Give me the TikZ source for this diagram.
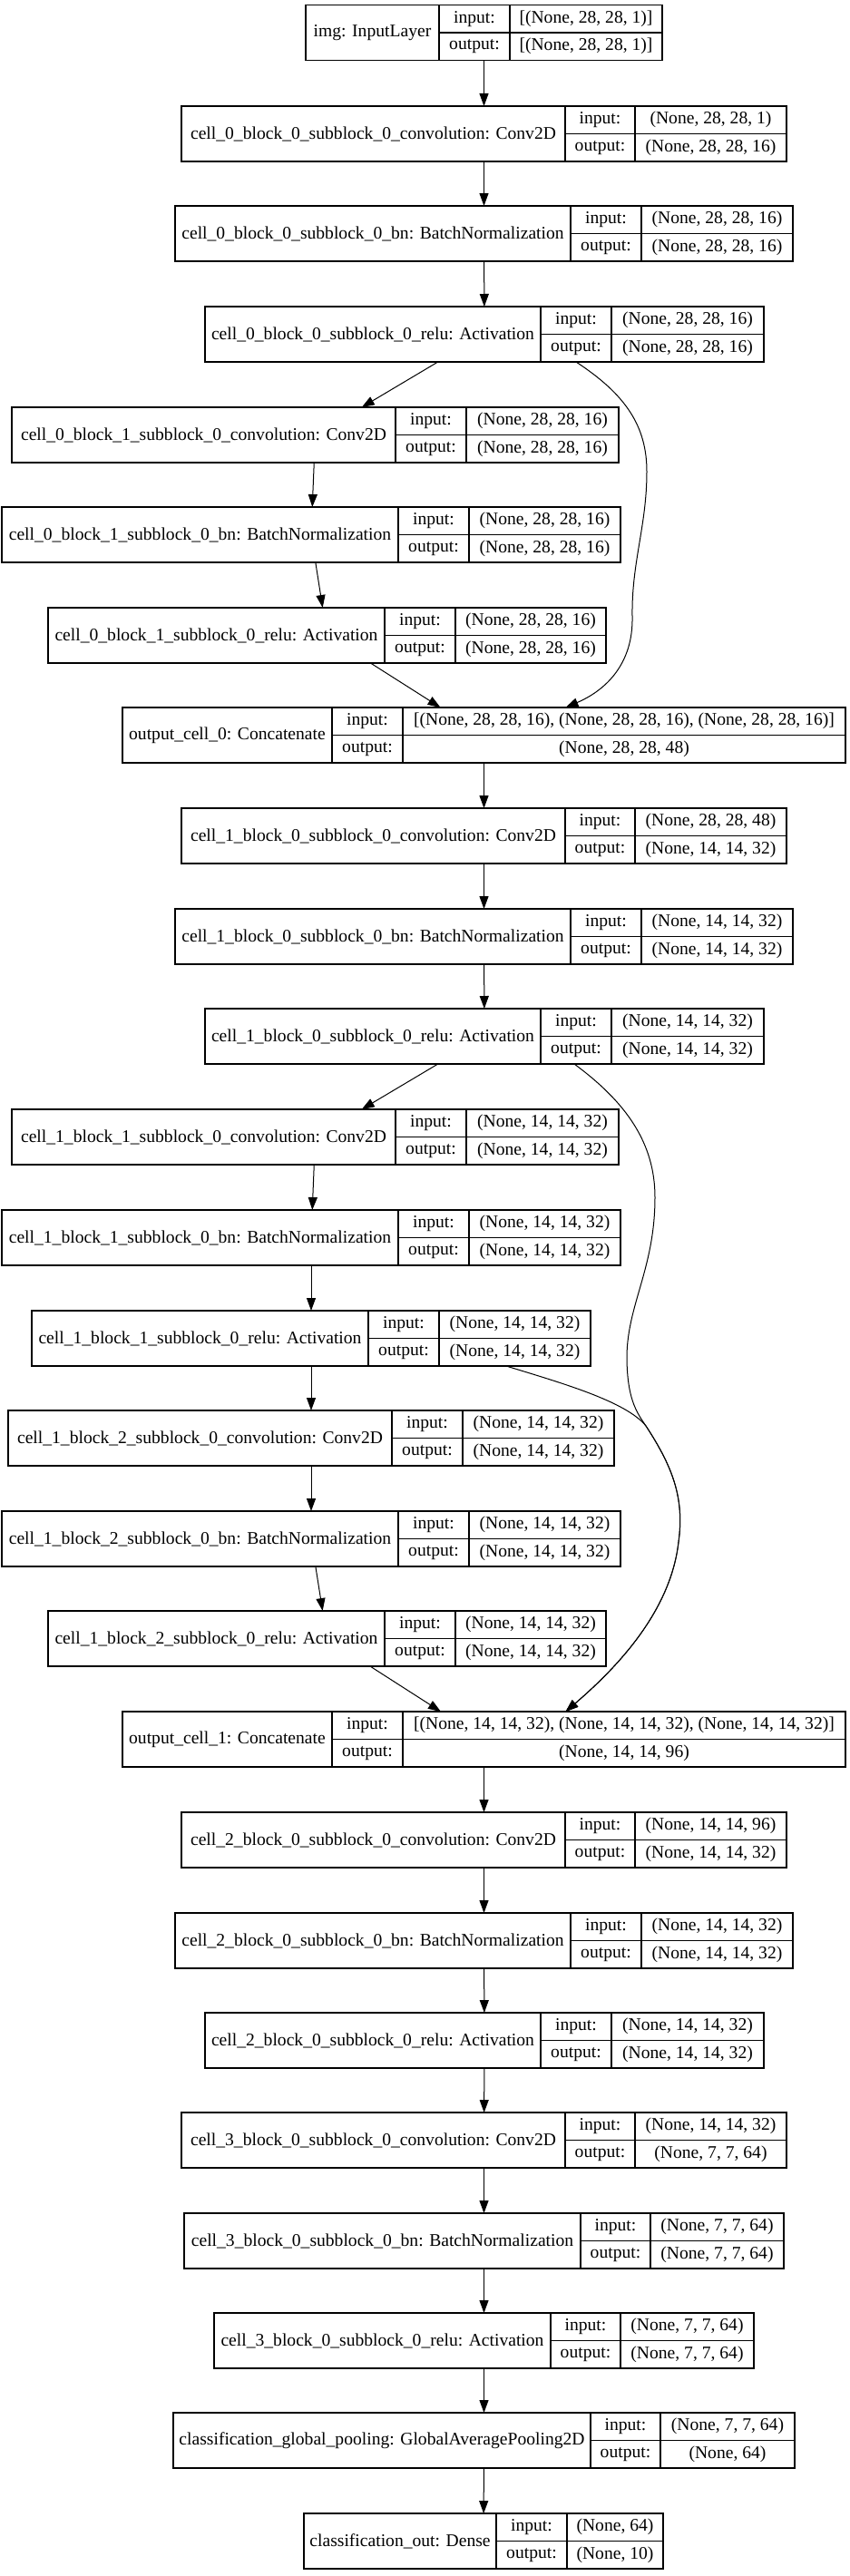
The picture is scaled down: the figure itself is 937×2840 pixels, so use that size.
\documentclass[tikz,border=0pt]{standalone}
\usepackage{fontspec}
\setmainfont{Liberation Serif}
\usetikzlibrary{positioning}
\usetikzlibrary{arrows.meta}
\usetikzlibrary{calc}

% one keras layer: name, top, left, split1, split2, right, label, input, output
\newcommand{\kerasnode}[9]{%
\node[layernode, minimum width={(#6-#3)*0.75pt}, anchor=north west] (#1) at (#3,#2) {};
\node[namenode, minimum width={(#4-#3)*0.75pt}, anchor=north west] (#1-name) at (#3,#2) {#7};
\node[portnode, minimum width={(#5-#4)*0.75pt}, anchor=north west] (#1-in) at (#4,#2) {input:};
\node[portnode, minimum width={(#5-#4)*0.75pt}, anchor=north west] (#1-out) at (#4,#2+30.5) {output:};
\node[portnode, minimum width={(#6-#5)*0.75pt}, anchor=north west] (#1-inv) at (#5,#2) {#8};
\node[portnode, minimum width={(#6-#5)*0.75pt}, anchor=north west] (#1-outv) at (#5,#2+30.5) {#9};
}

\begin{document}
\begin{tikzpicture}[
x=0.75pt, y=-0.75pt,
font=\fontsize{14.7}{17}\selectfont,
layernode/.style={rectangle, draw, line width=1pt, inner sep=0pt, outer sep=0pt, minimum height=45.75pt},
namenode/.style={rectangle, draw, line width=1pt, inner sep=0pt, outer sep=0pt, minimum height=45.75pt},
portnode/.style={rectangle, draw, line width=1pt, inner sep=0pt, outer sep=0pt, minimum height=22.875pt},
flow/.style={-{Triangle[length=10.5pt,width=7.5pt]}, line width=0.75pt}
]
\useasboundingbox (0,0) rectangle (937,2840);

%Nodes
\kerasnode{img}{5.5}{337}{484}{562}{730}{img: InputLayer}{[(None, 28, 28, 1)]}{[(None, 28, 28, 1)]}
\kerasnode{c0b0conv}{117}{200}{623}{700}{867}{cell\_0\_block\_0\_subblock\_0\_convolution: Conv2D}{(None, 28, 28, 1)}{(None, 28, 28, 16)}
\kerasnode{c0b0bn}{227}{193}{629}{707}{874}{cell\_0\_block\_0\_subblock\_0\_bn: BatchNormalization}{(None, 28, 28, 16)}{(None, 28, 28, 16)}
\kerasnode{c0b0relu}{338}{226}{596}{674}{842}{cell\_0\_block\_0\_subblock\_0\_relu: Activation}{(None, 28, 28, 16)}{(None, 28, 28, 16)}
\kerasnode{c0b1conv}{449}{13}{436}{514}{682}{cell\_0\_block\_1\_subblock\_0\_convolution: Conv2D}{(None, 28, 28, 16)}{(None, 28, 28, 16)}
\kerasnode{c0b1bn}{559}{2}{439}{517}{684}{cell\_0\_block\_1\_subblock\_0\_bn: BatchNormalization}{(None, 28, 28, 16)}{(None, 28, 28, 16)}
\kerasnode{c0b1relu}{670}{53}{424}{502}{668}{cell\_0\_block\_1\_subblock\_0\_relu: Activation}{(None, 28, 28, 16)}{(None, 28, 28, 16)}
\kerasnode{cat0}{780}{135}{366}{444}{932}{output\_cell\_0: Concatenate}{[(None, 28, 28, 16), (None, 28, 28, 16), (None, 28, 28, 16)]}{(None, 28, 28, 48)}
\kerasnode{c1b0conv}{891}{200}{623}{700}{867}{cell\_1\_block\_0\_subblock\_0\_convolution: Conv2D}{(None, 28, 28, 48)}{(None, 14, 14, 32)}
\kerasnode{c1b0bn}{1002}{193}{629}{707}{874}{cell\_1\_block\_0\_subblock\_0\_bn: BatchNormalization}{(None, 14, 14, 32)}{(None, 14, 14, 32)}
\kerasnode{c1b0relu}{1112}{226}{596}{674}{842}{cell\_1\_block\_0\_subblock\_0\_relu: Activation}{(None, 14, 14, 32)}{(None, 14, 14, 32)}
\kerasnode{c1b1conv}{1223}{13}{436}{514}{682}{cell\_1\_block\_1\_subblock\_0\_convolution: Conv2D}{(None, 14, 14, 32)}{(None, 14, 14, 32)}
\kerasnode{c1b1bn}{1334}{2}{439}{517}{684}{cell\_1\_block\_1\_subblock\_0\_bn: BatchNormalization}{(None, 14, 14, 32)}{(None, 14, 14, 32)}
\kerasnode{c1b1relu}{1445}{35}{406}{484}{651}{cell\_1\_block\_1\_subblock\_0\_relu: Activation}{(None, 14, 14, 32)}{(None, 14, 14, 32)}
\kerasnode{c1b2conv}{1555}{9}{432}{510}{677}{cell\_1\_block\_2\_subblock\_0\_convolution: Conv2D}{(None, 14, 14, 32)}{(None, 14, 14, 32)}
\kerasnode{c1b2bn}{1666}{2}{439}{517}{684}{cell\_1\_block\_2\_subblock\_0\_bn: BatchNormalization}{(None, 14, 14, 32)}{(None, 14, 14, 32)}
\kerasnode{c1b2relu}{1776}{53}{424}{502}{668}{cell\_1\_block\_2\_subblock\_0\_relu: Activation}{(None, 14, 14, 32)}{(None, 14, 14, 32)}
\kerasnode{cat1}{1887}{135}{366}{444}{932}{output\_cell\_1: Concatenate}{[(None, 14, 14, 32), (None, 14, 14, 32), (None, 14, 14, 32)]}{(None, 14, 14, 96)}
\kerasnode{c2b0conv}{1998}{200}{623}{700}{867}{cell\_2\_block\_0\_subblock\_0\_convolution: Conv2D}{(None, 14, 14, 96)}{(None, 14, 14, 32)}
\kerasnode{c2b0bn}{2109}{193}{629}{707}{874}{cell\_2\_block\_0\_subblock\_0\_bn: BatchNormalization}{(None, 14, 14, 32)}{(None, 14, 14, 32)}
\kerasnode{c2b0relu}{2219}{226}{596}{674}{842}{cell\_2\_block\_0\_subblock\_0\_relu: Activation}{(None, 14, 14, 32)}{(None, 14, 14, 32)}
\kerasnode{c3b0conv}{2329}{200}{623}{700}{867}{cell\_3\_block\_0\_subblock\_0\_convolution: Conv2D}{(None, 14, 14, 32)}{(None, 7, 7, 64)}
\kerasnode{c3b0bn}{2440}{203}{640}{717}{864}{cell\_3\_block\_0\_subblock\_0\_bn: BatchNormalization}{(None, 7, 7, 64)}{(None, 7, 7, 64)}
\kerasnode{c3b0relu}{2550}{236}{607}{684}{831}{cell\_3\_block\_0\_subblock\_0\_relu: Activation}{(None, 7, 7, 64)}{(None, 7, 7, 64)}
\kerasnode{gpool}{2660}{191}{651}{728}{876}{classification\_global\_pooling: GlobalAveragePooling2D}{(None, 7, 7, 64)}{(None, 64)}
\kerasnode{dense}{2771}{335}{547}{625}{731}{classification\_out: Dense}{(None, 64)}{(None, 10)}

%Edges
\foreach \a/\b in {img/c0b0conv, c0b0conv/c0b0bn, c0b0bn/c0b0relu, c0b0relu/c0b1conv,
  c0b1conv/c0b1bn, c0b1bn/c0b1relu, c0b1relu/cat0, cat0/c1b0conv, c1b0conv/c1b0bn,
  c1b0bn/c1b0relu, c1b0relu/c1b1conv, c1b1conv/c1b1bn, c1b1bn/c1b1relu, c1b1relu/c1b2conv,
  c1b2conv/c1b2bn, c1b2bn/c1b2relu, c1b2relu/cat1, cat1/c2b0conv, c2b0conv/c2b0bn,
  c2b0bn/c2b0relu, c2b0relu/c3b0conv, c3b0conv/c3b0bn, c3b0bn/c3b0relu, c3b0relu/gpool,
  gpool/dense}
  \draw[flow] (\a) -- (\b);

%Skip edges
\draw[flow] ($(c0b0relu.south)+(101,0)$) .. controls (690,435) and (713,470) .. (713,520)
  .. controls (713,580) and (696,620) .. (697,680)
  .. controls (698,730) and (670,760) .. ($(cat0.north)+(90,0)$);
\coordinate (merge1) at (712,1572);
\draw[flow] ($(c1b0relu.south)+(99,0)$) .. controls (690,1215) and (722,1260) .. (722,1320)
  .. controls (722,1400) and (690,1440) .. (691,1500)
  .. controls (692,1540) and (700,1555) .. (merge1)
  .. controls (740,1615) and (755,1650) .. (748,1700)
  .. controls (740,1770) and (690,1830) .. ($(cat1.north)+(90,0)$);
\draw[flow] ($(c1b1relu.south)+(215,0)$) .. controls (620,1525) and (690,1545) .. (merge1)
  .. controls (740,1615) and (755,1650) .. (748,1700)
  .. controls (740,1770) and (690,1830) .. ($(cat1.north)+(90,0)$);

\end{tikzpicture}
\end{document}
